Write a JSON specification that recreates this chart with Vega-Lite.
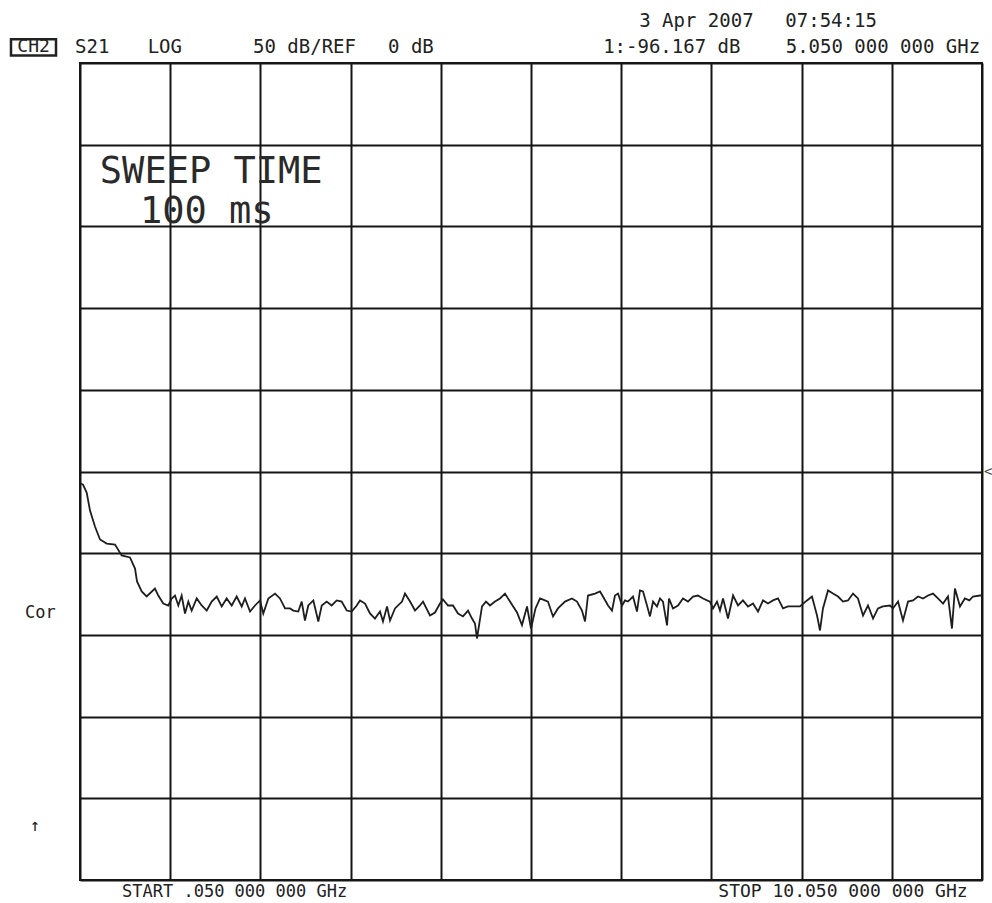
{
  "$schema": "https://vega.github.io/schema/vega-lite/v6.json",
  "width": 902,
  "height": 817,
  "autosize": {"type": "none"},
  "padding": {"left": 80, "top": 63, "right": 10, "bottom": 23},
  "background": "white",
  "config": {"view": {"stroke": "#1a1a1a", "strokeWidth": 2}},
  "layer": [
    {
      "data": {"values": [
        {"f":0.058,"db":-7.3},{"f":0.083,"db":-8.0},{"f":0.124,"db":-12.9},{"f":0.161,"db":-23.9},{"f":0.216,"db":-33.7},
        {"f":0.272,"db":-41.6},{"f":0.346,"db":-44.1},{"f":0.438,"db":-44.7},{"f":0.512,"db":-51.4},{"f":0.604,"db":-52.6},
        {"f":0.66,"db":-59.4},{"f":0.682,"db":-67.3},{"f":0.734,"db":-73.4},{"f":0.789,"db":-76.5},{"f":0.881,"db":-71.6},
        {"f":0.918,"db":-75.9},{"f":0.973,"db":-80.8},{"f":1.029,"db":-82.0},{"f":1.067,"db":-77.7},{"f":1.103,"db":-75.9},
        {"f":1.14,"db":-82.0},{"f":1.177,"db":-75.9},{"f":1.214,"db":-86.9},{"f":1.251,"db":-79.6},{"f":1.288,"db":-85.1},
        {"f":1.344,"db":-77.7},{"f":1.399,"db":-82.0},{"f":1.455,"db":-85.1},{"f":1.51,"db":-79.6},{"f":1.566,"db":-76.5},
        {"f":1.621,"db":-82.6},{"f":1.676,"db":-77.7},{"f":1.732,"db":-82.0},{"f":1.787,"db":-76.5},{"f":1.843,"db":-82.6},
        {"f":1.879,"db":-77.7},{"f":1.935,"db":-85.7},{"f":1.99,"db":-82.0},{"f":2.046,"db":-78.9},{"f":2.082,"db":-86.9},
        {"f":2.138,"db":-77.7},{"f":2.212,"db":-74.7},{"f":2.267,"db":-77.7},{"f":2.323,"db":-83.8},{"f":2.378,"db":-83.8},
        {"f":2.415,"db":-85.1},{"f":2.47,"db":-85.7},{"f":2.508,"db":-79.6},{"f":2.544,"db":-91.2},{"f":2.581,"db":-82.0},
        {"f":2.637,"db":-78.9},{"f":2.692,"db":-91.8},{"f":2.73,"db":-82.0},{"f":2.785,"db":-79.6},{"f":2.84,"db":-82.0},
        {"f":2.896,"db":-78.9},{"f":2.951,"db":-79.6},{"f":3.007,"db":-85.1},{"f":3.062,"db":-85.7},{"f":3.118,"db":-82.0},
        {"f":3.154,"db":-78.9},{"f":3.21,"db":-80.8},{"f":3.265,"db":-86.9},{"f":3.32,"db":-90.0},{"f":3.376,"db":-85.7},
        {"f":3.409,"db":-91.8},{"f":3.454,"db":-82.6},{"f":3.487,"db":-91.2},{"f":3.542,"db":-83.8},{"f":3.62,"db":-79.6},
        {"f":3.653,"db":-74.7},{"f":3.709,"db":-79.6},{"f":3.764,"db":-85.1},{"f":3.819,"db":-82.0},{"f":3.853,"db":-79.6},
        {"f":3.93,"db":-88.1},{"f":3.986,"db":-86.3},{"f":4.041,"db":-80.8},{"f":4.074,"db":-78.3},{"f":4.13,"db":-82.0},
        {"f":4.185,"db":-82.0},{"f":4.241,"db":-86.9},{"f":4.296,"db":-88.7},{"f":4.352,"db":-85.1},{"f":4.396,"db":-90.0},
        {"f":4.429,"db":-93.0},{"f":4.451,"db":-102.2},{"f":4.507,"db":-82.6},{"f":4.551,"db":-79.6},{"f":4.595,"db":-82.0},
        {"f":4.651,"db":-79.6},{"f":4.706,"db":-77.7},{"f":4.762,"db":-74.7},{"f":4.817,"db":-79.6},{"f":4.895,"db":-86.3},
        {"f":4.95,"db":-94.0},{"f":5.006,"db":-82.6},{"f":5.05,"db":-96.2},{"f":5.10,"db":-83.8},{"f":5.15,"db":-77.7},
        {"f":5.205,"db":-78.9},{"f":5.238,"db":-79.6},{"f":5.294,"db":-88.7},{"f":5.349,"db":-83.8},{"f":5.427,"db":-79.6},
        {"f":5.504,"db":-77.7},{"f":5.56,"db":-79.6},{"f":5.615,"db":-85.1},{"f":5.649,"db":-91.8},{"f":5.682,"db":-75.9},
        {"f":5.76,"db":-74.7},{"f":5.815,"db":-73.4},{"f":5.848,"db":-76.5},{"f":5.904,"db":-82.0},{"f":5.948,"db":-85.1},
        {"f":5.981,"db":-75.9},{"f":6.015,"db":-74.7},{"f":6.059,"db":-82.0},{"f":6.092,"db":-78.9},{"f":6.125,"db":-79.6},
        {"f":6.181,"db":-76.5},{"f":6.225,"db":-85.7},{"f":6.258,"db":-72.8},{"f":6.292,"db":-73.4},{"f":6.336,"db":-82.0},
        {"f":6.369,"db":-88.7},{"f":6.403,"db":-79.6},{"f":6.447,"db":-82.6},{"f":6.48,"db":-77.7},{"f":6.513,"db":-79.6},
        {"f":6.558,"db":-94.2},{"f":6.58,"db":-77.7},{"f":6.624,"db":-83.8},{"f":6.68,"db":-82.0},{"f":6.735,"db":-77.7},
        {"f":6.79,"db":-79.6},{"f":6.846,"db":-76.5},{"f":6.901,"db":-75.9},{"f":6.957,"db":-77.7},{"f":7.034,"db":-79.6},
        {"f":7.068,"db":-83.8},{"f":7.112,"db":-79.6},{"f":7.145,"db":-85.1},{"f":7.179,"db":-77.7},{"f":7.234,"db":-90.0},
        {"f":7.29,"db":-75.9},{"f":7.345,"db":-82.0},{"f":7.4,"db":-78.9},{"f":7.456,"db":-82.6},{"f":7.511,"db":-80.8},
        {"f":7.567,"db":-85.7},{"f":7.622,"db":-78.9},{"f":7.677,"db":-80.8},{"f":7.733,"db":-78.9},{"f":7.788,"db":-77.7},
        {"f":7.844,"db":-83.8},{"f":7.899,"db":-82.6},{"f":8.032,"db":-82.6},{"f":8.11,"db":-78.9},{"f":8.165,"db":-76.5},
        {"f":8.221,"db":-88.1},{"f":8.254,"db":-97.3},{"f":8.287,"db":-83.8},{"f":8.343,"db":-72.8},{"f":8.398,"db":-74.7},
        {"f":8.454,"db":-76.5},{"f":8.509,"db":-79.6},{"f":8.564,"db":-78.9},{"f":8.62,"db":-74.7},{"f":8.675,"db":-77.7},
        {"f":8.731,"db":-88.1},{"f":8.786,"db":-82.0},{"f":8.842,"db":-90.0},{"f":8.897,"db":-83.8},{"f":8.952,"db":-82.6},
        {"f":9.03,"db":-82.0},{"f":9.063,"db":-83.8},{"f":9.119,"db":-79.6},{"f":9.174,"db":-91.2},{"f":9.23,"db":-79.6},
        {"f":9.285,"db":-78.9},{"f":9.341,"db":-76.5},{"f":9.396,"db":-77.7},{"f":9.452,"db":-75.9},{"f":9.507,"db":-74.7},
        {"f":9.562,"db":-77.7},{"f":9.618,"db":-80.8},{"f":9.673,"db":-76.5},{"f":9.717,"db":-96.1},{"f":9.75,"db":-71.6},
        {"f":9.806,"db":-82.6},{"f":9.86,"db":-77.7},{"f":9.91,"db":-78.9},{"f":9.95,"db":-76.5},{"f":10.028,"db":-75.9},
        {"f":10.05,"db":-75.9}
      ]},
      "mark": {"type": "line", "color": "#1e1e1e", "strokeWidth": 1.8, "clip": true},
      "encoding": {
        "x": {"field": "f", "type": "quantitative",
              "scale": {"domain": [0.05, 10.05], "nice": false, "zero": false},
              "axis": {"title": null, "labels": false, "ticks": false, "domain": false, "grid": true,
                       "gridColor": "#151515", "gridWidth": 2, "gridOpacity": 1,
                       "values": [0.05,1.05,2.05,3.05,4.05,5.05,6.05,7.05,8.05,9.05,10.05]}},
        "y": {"field": "db", "type": "quantitative",
              "scale": {"domain": [-250, 250], "nice": false, "zero": false},
              "axis": {"title": null, "labels": false, "ticks": false, "domain": false, "grid": true,
                       "gridColor": "#151515", "gridWidth": 2, "gridOpacity": 1,
                       "values": [-250,-200,-150,-100,-50,0,50,100,150,200,250]}}
      }
    },
    {
      "data": {"values": [{}]},
      "mark": {"type": "text", "text": "SWEEP TIME", "font": "DejaVu Sans Mono", "fontSize": 37, "align": "left", "baseline": "middle", "color": "#2a2a2a"},
      "encoding": {"x": {"datum": 0.27, "type": "quantitative"}, "y": {"datum": 183.3, "type": "quantitative"}}
    },
    {
      "data": {"values": [{}]},
      "mark": {"type": "text", "text": "100 ms", "font": "DejaVu Sans Mono", "fontSize": 37, "align": "left", "baseline": "middle", "color": "#2a2a2a"},
      "encoding": {"x": {"datum": 0.715, "type": "quantitative"}, "y": {"datum": 159.0, "type": "quantitative"}}
    },
    {
      "data": {"values": [{}]},
      "mark": {"type": "text", "text": "3 Apr 2007", "font": "DejaVu Sans Mono", "fontSize": 19, "align": "left", "baseline": "middle", "color": "#222222"},
      "encoding": {"x": {"datum": 6.25, "type": "quantitative"}, "y": {"datum": 276, "type": "quantitative"}}
    },
    {
      "data": {"values": [{}]},
      "mark": {"type": "text", "text": "07:54:15", "font": "DejaVu Sans Mono", "fontSize": 19, "align": "left", "baseline": "middle", "color": "#222222"},
      "encoding": {"x": {"datum": 7.87, "type": "quantitative"}, "y": {"datum": 276, "type": "quantitative"}}
    },
    {
      "data": {"values": [{}]},
      "mark": {"type": "text", "text": "CH2", "font": "DejaVu Sans Mono", "fontSize": 18, "align": "center", "baseline": "middle", "color": "#222222"},
      "encoding": {"x": {"datum": -0.465, "type": "quantitative"}, "y": {"datum": 259.8, "type": "quantitative"}}
    },
    {
      "data": {"values": [{}]},
      "mark": {"type": "rect", "filled": false, "stroke": "#222222", "strokeWidth": 2.5},
      "encoding": {"x": {"datum": -0.715, "type": "quantitative"}, "x2": {"datum": -0.216},
                   "y": {"datum": 254.6, "type": "quantitative"}, "y2": {"datum": 264.6}}
    },
    {
      "data": {"values": [{}]},
      "mark": {"type": "text", "text": "S21", "font": "DejaVu Sans Mono", "fontSize": 19, "align": "left", "baseline": "middle", "color": "#222222"},
      "encoding": {"x": {"datum": -0.005, "type": "quantitative"}, "y": {"datum": 259.8, "type": "quantitative"}}
    },
    {
      "data": {"values": [{}]},
      "mark": {"type": "text", "text": "LOG", "font": "DejaVu Sans Mono", "fontSize": 19, "align": "left", "baseline": "middle", "color": "#222222"},
      "encoding": {"x": {"datum": 0.8, "type": "quantitative"}, "y": {"datum": 259.8, "type": "quantitative"}}
    },
    {
      "data": {"values": [{}]},
      "mark": {"type": "text", "text": "50 dB/REF", "font": "DejaVu Sans Mono", "fontSize": 19, "align": "left", "baseline": "middle", "color": "#222222"},
      "encoding": {"x": {"datum": 1.968, "type": "quantitative"}, "y": {"datum": 259.8, "type": "quantitative"}}
    },
    {
      "data": {"values": [{}]},
      "mark": {"type": "text", "text": "0 dB", "font": "DejaVu Sans Mono", "fontSize": 19, "align": "left", "baseline": "middle", "color": "#222222"},
      "encoding": {"x": {"datum": 3.465, "type": "quantitative"}, "y": {"datum": 259.8, "type": "quantitative"}}
    },
    {
      "data": {"values": [{}]},
      "mark": {"type": "text", "text": "1:-96.167 dB", "font": "DejaVu Sans Mono", "fontSize": 19, "align": "left", "baseline": "middle", "color": "#222222"},
      "encoding": {"x": {"datum": 5.85, "type": "quantitative"}, "y": {"datum": 259.8, "type": "quantitative"}}
    },
    {
      "data": {"values": [{}]},
      "mark": {"type": "text", "text": "5.050 000 000 GHz", "font": "DejaVu Sans Mono", "fontSize": 19, "align": "right", "baseline": "middle", "color": "#222222"},
      "encoding": {"x": {"datum": 10.03, "type": "quantitative"}, "y": {"datum": 259.8, "type": "quantitative"}}
    },
    {
      "data": {"values": [{}]},
      "mark": {"type": "text", "text": "START .050 000 000 GHz", "font": "DejaVu Sans Mono", "fontSize": 17, "align": "left", "baseline": "middle", "color": "#222222"},
      "encoding": {"x": {"datum": 0.516, "type": "quantitative"}, "y": {"datum": -257.6, "type": "quantitative"}}
    },
    {
      "data": {"values": [{}]},
      "mark": {"type": "text", "text": "STOP 10.050 000 000 GHz", "font": "DejaVu Sans Mono", "fontSize": 18, "align": "right", "baseline": "middle", "color": "#222222"},
      "encoding": {"x": {"datum": 9.89, "type": "quantitative"}, "y": {"datum": -257.6, "type": "quantitative"}}
    },
    {
      "data": {"values": [{}]},
      "mark": {"type": "text", "text": "Cor", "font": "DejaVu Sans Mono", "fontSize": 17, "align": "left", "baseline": "middle", "color": "#222222"},
      "encoding": {"x": {"datum": -0.56, "type": "quantitative"}, "y": {"datum": -86.6, "type": "quantitative"}}
    },
    {
      "data": {"values": [{}]},
      "mark": {"type": "text", "text": "↑", "font": "DejaVu Sans Mono", "fontSize": 17, "align": "center", "baseline": "middle", "color": "#222222"},
      "encoding": {"x": {"datum": -0.45, "type": "quantitative"}, "y": {"datum": -217, "type": "quantitative"}}
    },
    {
      "data": {"values": [{}]},
      "mark": {"type": "text", "text": "<", "font": "DejaVu Sans Mono", "fontSize": 14, "align": "left", "baseline": "middle", "color": "#444444", "dx": 2},
      "encoding": {"x": {"datum": 10.05, "type": "quantitative"}, "y": {"datum": 0, "type": "quantitative"}}
    }
  ]
}
